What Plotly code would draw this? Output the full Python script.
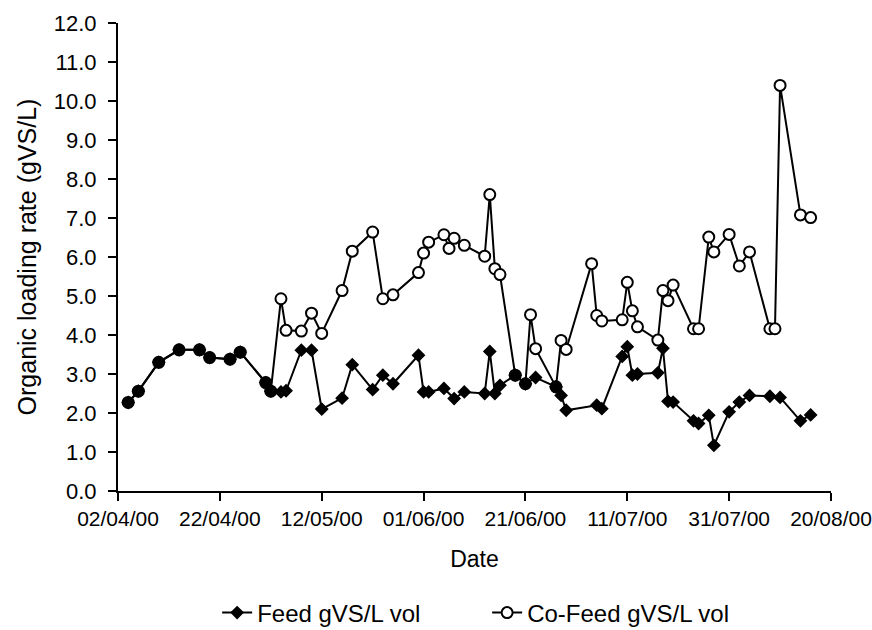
import plotly.graph_objects as go

# Feed organic loading rate (gVS/L)
feed_dates = [
    "2000-04-04", "2000-04-06", "2000-04-10", "2000-04-14", "2000-04-18",
    "2000-04-20", "2000-04-24", "2000-04-26", "2000-05-01", "2000-05-02",
    "2000-05-04", "2000-05-05", "2000-05-08", "2000-05-10", "2000-05-12",
    "2000-05-16", "2000-05-18", "2000-05-22", "2000-05-24", "2000-05-26",
    "2000-05-31", "2000-06-01", "2000-06-02", "2000-06-05", "2000-06-07",
    "2000-06-09", "2000-06-13", "2000-06-14", "2000-06-15", "2000-06-16",
    "2000-06-19", "2000-06-21", "2000-06-23", "2000-06-27", "2000-06-28",
    "2000-06-29", "2000-07-05", "2000-07-06", "2000-07-10", "2000-07-11",
    "2000-07-12", "2000-07-13", "2000-07-17", "2000-07-18", "2000-07-19",
    "2000-07-20", "2000-07-24", "2000-07-25", "2000-07-27", "2000-07-28",
    "2000-07-31", "2000-08-02", "2000-08-04", "2000-08-08", "2000-08-10",
    "2000-08-14", "2000-08-16",
]
feed_values = [
    2.27, 2.56, 3.30, 3.62, 3.62,
    3.42, 3.38, 3.56, 2.78, 2.56,
    2.54, 2.57, 3.61, 3.61, 2.10,
    2.38, 3.24, 2.60, 2.97, 2.75,
    3.48, 2.54, 2.54, 2.63, 2.37,
    2.54, 2.50, 3.58, 2.50, 2.71,
    2.97, 2.75, 2.91, 2.67, 2.45,
    2.07, 2.20, 2.11, 3.45, 3.70,
    2.97, 3.00, 3.03, 3.66, 2.30,
    2.28, 1.80, 1.73, 1.94, 1.17,
    2.03, 2.28, 2.45, 2.43, 2.40,
    1.80, 1.95,
]

# Co-feed organic loading rate (gVS/L)
cofeed_dates = [
    "2000-04-04", "2000-04-06", "2000-04-10", "2000-04-14", "2000-04-18",
    "2000-04-20", "2000-04-24", "2000-04-26", "2000-05-01", "2000-05-02",
    "2000-05-04", "2000-05-05", "2000-05-08", "2000-05-10", "2000-05-12",
    "2000-05-16", "2000-05-18", "2000-05-22", "2000-05-24", "2000-05-26",
    "2000-05-31", "2000-06-01", "2000-06-02", "2000-06-05", "2000-06-06",
    "2000-06-07", "2000-06-09", "2000-06-13", "2000-06-14", "2000-06-15",
    "2000-06-16", "2000-06-19", "2000-06-21", "2000-06-22", "2000-06-23",
    "2000-06-27", "2000-06-28", "2000-06-29", "2000-07-04", "2000-07-05",
    "2000-07-06", "2000-07-10", "2000-07-11", "2000-07-12", "2000-07-13",
    "2000-07-17", "2000-07-18", "2000-07-19", "2000-07-20", "2000-07-24",
    "2000-07-25", "2000-07-27", "2000-07-28", "2000-07-31", "2000-08-02",
    "2000-08-04", "2000-08-08", "2000-08-09", "2000-08-10", "2000-08-14",
    "2000-08-16",
]
cofeed_values = [
    2.27, 2.56, 3.30, 3.62, 3.62,
    3.42, 3.38, 3.56, 2.78, 2.56,
    4.93, 4.12, 4.10, 4.56, 4.04,
    5.14, 6.15, 6.64, 4.93, 5.03,
    5.60, 6.10, 6.38, 6.57, 6.22,
    6.48, 6.30, 6.02, 7.60, 5.70,
    5.55, 2.97, 2.75, 4.52, 3.65,
    2.67, 3.86, 3.63, 5.83, 4.50,
    4.36, 4.39, 5.35, 4.62, 4.21,
    3.87, 5.14, 4.88, 5.28, 4.16,
    4.16, 6.51, 6.13, 6.58, 5.77,
    6.13, 4.16, 4.16, 10.40, 7.08,
    7.01,
]

FONT = "Liberation Sans, Arial, sans-serif"

fig = go.Figure()

fig.add_trace(go.Scatter(
    x=cofeed_dates, y=cofeed_values,
    mode="lines+markers",
    name="Co-Feed gVS/L vol",
    legendrank=2,
    line=dict(color="black", width=2),
    marker=dict(symbol="circle", size=11, color="white",
                line=dict(color="black", width=2)),
))

fig.add_trace(go.Scatter(
    x=feed_dates, y=feed_values,
    mode="lines+markers",
    name="Feed gVS/L vol",
    legendrank=1,
    line=dict(color="black", width=2),
    marker=dict(symbol="diamond", size=9, color="black",
                line=dict(color="black", width=1.5)),
))

fig.update_layout(
    width=872, height=630,
    margin=dict(l=118, r=41, t=23, b=139),
    paper_bgcolor="white",
    plot_bgcolor="white",
    font=dict(family=FONT, size=22, color="black"),
    legend=dict(
        orientation="h",
        xref="container", yref="container",
        x=0.249, xanchor="left",
        y=0.027, yanchor="middle",
        entrywidth=225, entrywidthmode="pixels",
        font=dict(size=24),
        bgcolor="rgba(0,0,0,0)",
    ),
    showlegend=True,
)

fig.update_xaxes(
    type="date",
    range=["2000-04-02", "2000-08-20"],
    tick0="2000-04-02",
    dtick=20 * 86400000,
    tickformat="%d/%m/%y",
    ticks="outside", ticklen=8, tickwidth=2, tickcolor="black",
    showline=True, linecolor="black", linewidth=2,
    showgrid=False, zeroline=False,
    tickfont=dict(size=21),
    ticklabeloverflow="allow",
    title=dict(text="Date", font=dict(size=23), standoff=22),
    automargin=False,
)

fig.update_yaxes(
    range=[0, 12],
    tick0=0, dtick=1,
    tickformat=".1f",
    ticks="outside", ticklen=8, tickwidth=2, tickcolor="black",
    showline=True, linecolor="black", linewidth=2,
    showgrid=False, zeroline=False,
    tickfont=dict(size=22),
    ticklabelstandoff=7,
    title=dict(text="Organic loading rate (gVS/L)", font=dict(size=25), standoff=10),
    automargin=False,
)

fig.write_html("out.html")
